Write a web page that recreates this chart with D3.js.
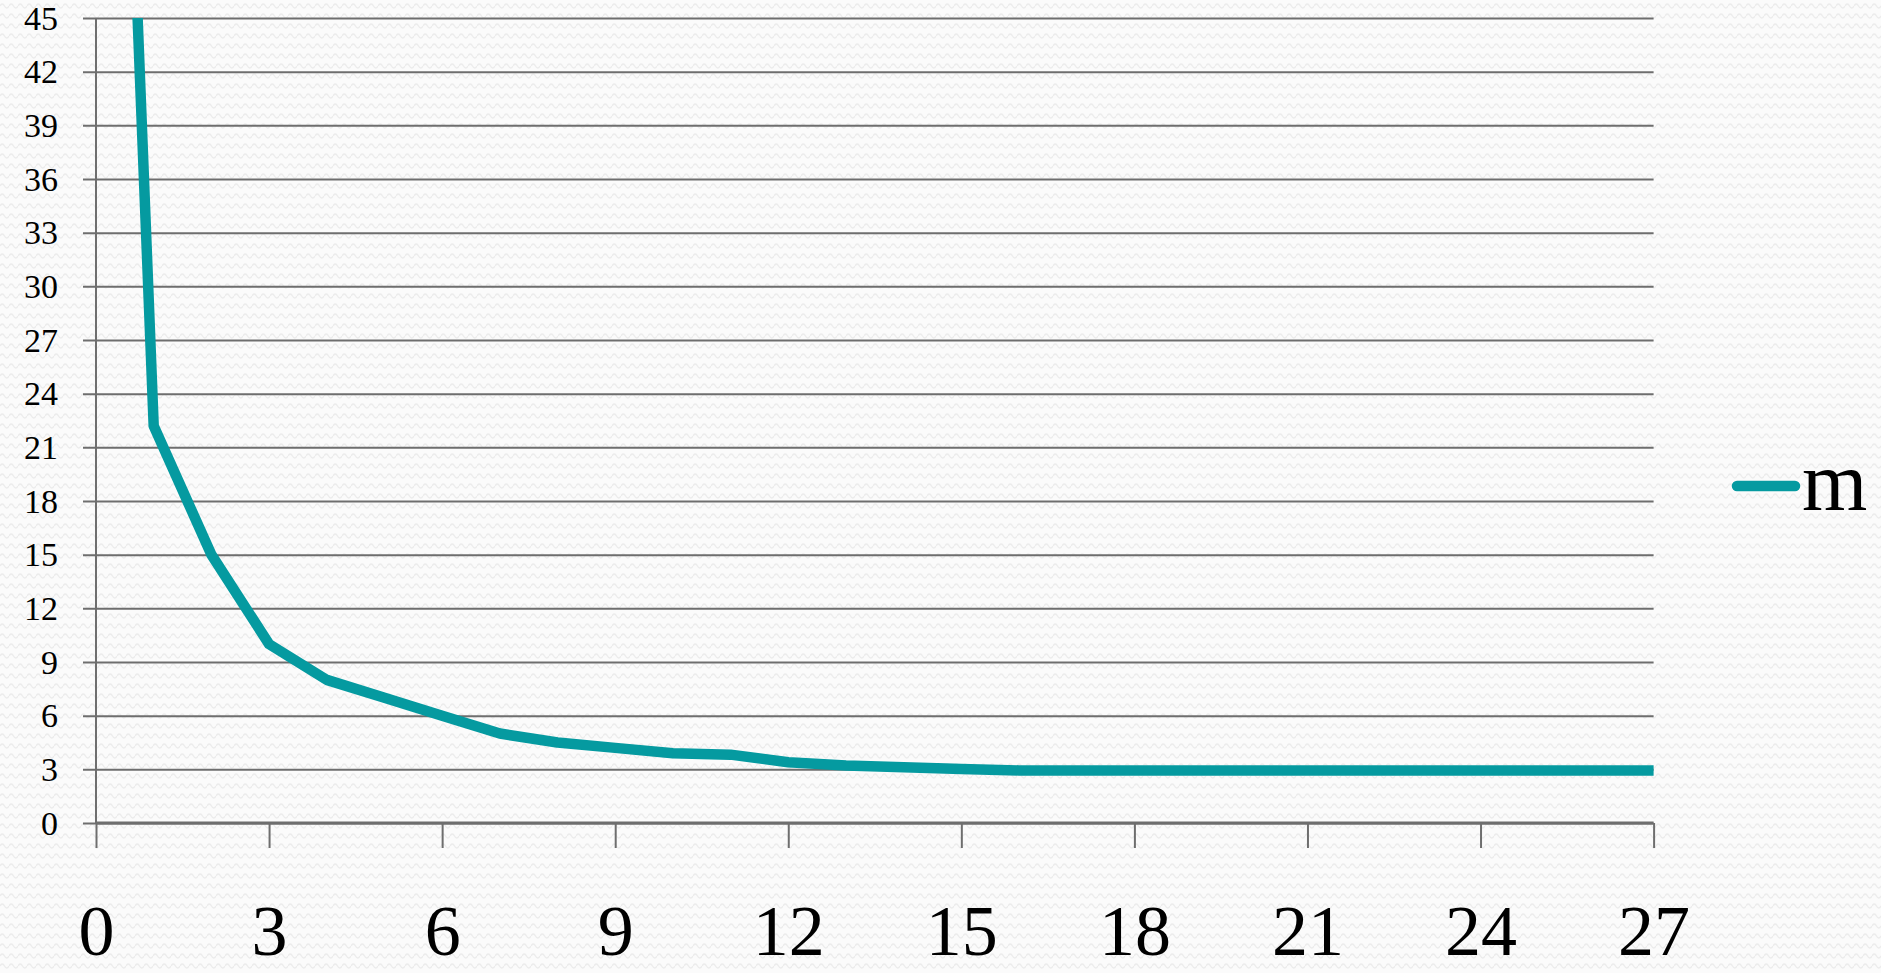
<!DOCTYPE html>
<html>
<head>
<meta charset="utf-8">
<script src="https://cdn.jsdelivr.net/npm/d3@7"></script>
<style>
  html, body { margin: 0; padding: 0; background: #fbfbfb; }
  svg { display: block; }
</style>
</head>
<body>
<svg id="chart" width="1881" height="973"></svg>
<script>
// Series "m" sampled at integer positions 0..27
const xValues = [0, 1, 2, 3, 4, 5, 6, 7, 8, 9, 10, 11, 12, 13, 14, 15, 16, 17, 18, 19, 20, 21, 22, 23, 24, 25, 26, 27];
const mValues = [104, 22.2, 15, 10, 8, 7, 6, 5, 4.5, 4.2, 3.9, 3.82, 3.4, 3.22, 3.12, 3.02, 2.94, 2.94, 2.94, 2.94, 2.94, 2.94, 2.94, 2.94, 2.94, 2.94, 2.94, 2.94];
const seriesName = "m";
const xTicks = [0, 3, 6, 9, 12, 15, 18, 21, 24, 27];
const yTicks = [0, 3, 6, 9, 12, 15, 18, 21, 24, 27, 30, 33, 36, 39, 42, 45];

const svg = d3.select("#chart");
const W = 1881, H = 973;
const plot = { left: 96, right: 1653.6, top: 18, bottom: 823 };
const teal = "#059aa0";
const gridColor = "#6e6e6e";
const font = "'Liberation Serif', 'DejaVu Serif', serif";

// Subtle wavy texture on the page background
const defs = svg.append("defs");
const pat = defs.append("pattern")
  .attr("id", "wave").attr("patternUnits", "userSpaceOnUse")
  .attr("width", 9).attr("height", 10);
pat.append("rect").attr("width", 9).attr("height", 10).attr("fill", "#fbfbfb");
pat.append("path")
  .attr("d", "M0,6 Q2.25,2 4.5,6 T9,6")
  .attr("fill", "none").attr("stroke", "#ececec").attr("stroke-width", 1.3);
svg.append("rect").attr("width", W).attr("height", H).attr("fill", "url(#wave)");

defs.append("clipPath").attr("id", "plotClip")
  .append("rect")
  .attr("x", plot.left - 10).attr("y", plot.top)
  .attr("width", plot.right - plot.left + 20).attr("height", plot.bottom - plot.top + 10);

const x = d3.scaleLinear().domain([0, 27]).range([plot.left, plot.right]);
const y = d3.scaleLinear().domain([0, 45]).range([plot.bottom, plot.top]);

// Horizontal gridlines with short ticks to the left of the axis
const yAxis = d3.axisLeft(y)
  .tickValues(yTicks)
  .tickSize(-(plot.right - plot.left))
  .tickFormat(d3.format("d"));
const gy = svg.append("g")
  .attr("transform", `translate(${plot.left},0)`)
  .call(yAxis);
gy.select(".domain").remove();
gy.selectAll(".tick line")
  .attr("x1", -13)
  .attr("stroke", gridColor).attr("stroke-width", 2);
gy.selectAll(".tick text")
  .attr("x", -38).attr("dy", null).attr("y", 11)
  .attr("text-anchor", "end")
  .attr("font-family", font).attr("font-size", 34).attr("fill", "#000");

// Vertical axis line
svg.append("line")
  .attr("x1", plot.left).attr("x2", plot.left)
  .attr("y1", plot.top).attr("y2", plot.bottom)
  .attr("stroke", gridColor).attr("stroke-width", 2);

// Bottom axis with downward ticks
const xAxis = d3.axisBottom(x).tickValues(xTicks).tickSize(25).tickFormat(d3.format("d"));
const gx = svg.append("g")
  .attr("transform", `translate(0,${plot.bottom})`)
  .call(xAxis);
gx.select(".domain")
  .attr("d", `M${plot.left},0H${plot.right}`)
  .attr("stroke", gridColor).attr("stroke-width", 3);
gx.selectAll(".tick line").attr("stroke", gridColor).attr("stroke-width", 2);
gx.selectAll(".tick text")
  .attr("y", 132).attr("dy", null)
  .attr("font-family", font).attr("font-size", 72).attr("fill", "#000");

// Data line
const points = xValues.map((v, i) => [v, mValues[i]]);
svg.append("path")
  .datum(points)
  .attr("clip-path", "url(#plotClip)")
  .attr("fill", "none")
  .attr("stroke", teal)
  .attr("stroke-width", 10.5)
  .attr("stroke-linejoin", "round")
  .attr("d", d3.line().x(d => x(d[0])).y(d => y(d[1])));

// Legend
const legend = svg.append("g").attr("transform", "translate(1733,486)");
legend.append("line")
  .attr("x1", 4).attr("x2", 62).attr("y1", 0).attr("y2", 0)
  .attr("stroke", teal).attr("stroke-width", 10.5).attr("stroke-linecap", "round");
legend.append("text")
  .attr("x", 69).attr("y", 24)
  .attr("font-family", font).attr("font-size", 84).attr("fill", "#000")
  .text(seriesName);
</script>
</body>
</html>
